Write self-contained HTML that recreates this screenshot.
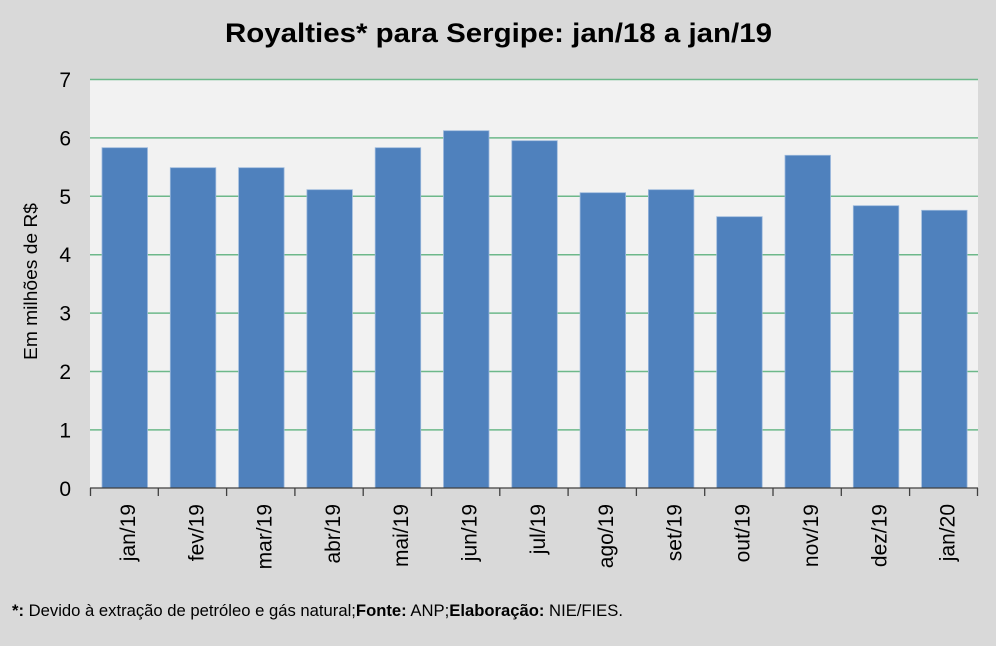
<!DOCTYPE html>
<html>
<head>
<meta charset="utf-8">
<style>
html,body{margin:0;padding:0;background:#d9d9d9;}
svg{display:block;}
text{font-family:"Liberation Sans",Arial,sans-serif;fill:#000;}
</style>
</head>
<body>
<svg width="996" height="646" viewBox="0 0 996 646" xmlns="http://www.w3.org/2000/svg">
<rect x="0" y="0" width="996" height="646" fill="#d9d9d9"/>
<!-- plot area -->
<rect x="90" y="79" width="888" height="409" fill="#f2f2f2"/>
<!-- gridlines -->
<g stroke="#6db88a" stroke-width="1.5">
<line x1="90" x2="978" y1="79.5" y2="79.5"/>
<line x1="90" x2="978" y1="137.9" y2="137.9"/>
<line x1="90" x2="978" y1="196.3" y2="196.3"/>
<line x1="90" x2="978" y1="254.7" y2="254.7"/>
<line x1="90" x2="978" y1="313.1" y2="313.1"/>
<line x1="90" x2="978" y1="371.5" y2="371.5"/>
<line x1="90" x2="978" y1="429.9" y2="429.9"/>
</g>
<!-- bars -->
<g fill="#4f81bd" stroke="#9bb8dc" stroke-width="0.8">
<rect x="102" y="147.7" width="45.5" height="340.3"/>
<rect x="170.3" y="167.7" width="45.5" height="320.3"/>
<rect x="238.6" y="167.7" width="45.5" height="320.3"/>
<rect x="306.9" y="189.7" width="45.5" height="298.3"/>
<rect x="375.2" y="147.7" width="45.5" height="340.3"/>
<rect x="443.5" y="130.7" width="45.5" height="357.3"/>
<rect x="511.8" y="140.7" width="45.5" height="347.3"/>
<rect x="580.1" y="192.7" width="45.5" height="295.3"/>
<rect x="648.4" y="189.7" width="45.5" height="298.3"/>
<rect x="716.7" y="216.7" width="45.5" height="271.3"/>
<rect x="785" y="155.3" width="45.5" height="332.7"/>
<rect x="853.3" y="205.7" width="45.5" height="282.3"/>
<rect x="921.6" y="210.3" width="45.5" height="277.7"/>
</g>
<!-- x axis -->
<g stroke="#404040" stroke-width="1.3">
<line x1="90" x2="978" y1="488" y2="488"/>
<line x1="90.5" x2="90.5" y1="488" y2="496"/>
<line x1="158.3" x2="158.3" y1="488" y2="496"/>
<line x1="226.6" x2="226.6" y1="488" y2="496"/>
<line x1="294.9" x2="294.9" y1="488" y2="496"/>
<line x1="363.2" x2="363.2" y1="488" y2="496"/>
<line x1="431.5" x2="431.5" y1="488" y2="496"/>
<line x1="499.8" x2="499.8" y1="488" y2="496"/>
<line x1="568.1" x2="568.1" y1="488" y2="496"/>
<line x1="636.4" x2="636.4" y1="488" y2="496"/>
<line x1="704.7" x2="704.7" y1="488" y2="496"/>
<line x1="773" x2="773" y1="488" y2="496"/>
<line x1="841.3" x2="841.3" y1="488" y2="496"/>
<line x1="909.6" x2="909.6" y1="488" y2="496"/>
<line x1="977.5" x2="977.5" y1="488" y2="496"/>
</g>
<!-- y tick labels -->
<g font-size="21" text-anchor="end">
<text x="71" y="87">7</text>
<text x="71" y="145.4">6</text>
<text x="71" y="203.8">5</text>
<text x="71" y="262.2">4</text>
<text x="71" y="320.6">3</text>
<text x="71" y="379">2</text>
<text x="71" y="437.4">1</text>
<text x="71" y="495.8">0</text>
</g>
<!-- y axis title -->
<text transform="translate(37,281.5) rotate(-90)" font-size="18.5" text-anchor="middle" textLength="157" lengthAdjust="spacingAndGlyphs">Em milhões de R$</text>
<!-- x labels -->
<g font-size="21" text-anchor="end">
<text transform="translate(135,504) rotate(-90)">jan/19</text>
<text transform="translate(203.3,504) rotate(-90)">fev/19</text>
<text transform="translate(271.6,504) rotate(-90)">mar/19</text>
<text transform="translate(339.9,504) rotate(-90)">abr/19</text>
<text transform="translate(408.2,504) rotate(-90)">mai/19</text>
<text transform="translate(476.5,504) rotate(-90)">jun/19</text>
<text transform="translate(544.8,504) rotate(-90)">jul/19</text>
<text transform="translate(613.1,504) rotate(-90)">ago/19</text>
<text transform="translate(681.4,504) rotate(-90)">set/19</text>
<text transform="translate(749.7,504) rotate(-90)">out/19</text>
<text transform="translate(818,504) rotate(-90)">nov/19</text>
<text transform="translate(886.3,504) rotate(-90)">dez/19</text>
<text transform="translate(954.6,504) rotate(-90)">jan/20</text>
</g>
<!-- title -->
<text x="225" y="42" font-size="27" font-weight="bold" textLength="547" lengthAdjust="spacingAndGlyphs">Royalties* para Sergipe: jan/18 a jan/19</text>
<!-- footer -->
<text x="12" y="616" font-size="17" textLength="611" lengthAdjust="spacingAndGlyphs"><tspan font-weight="bold">*:</tspan> Devido à extração de petróleo e gás natural;<tspan font-weight="bold">Fonte:</tspan> ANP;<tspan font-weight="bold">Elaboração:</tspan> NIE/FIES.</text>
</svg>
</body>
</html>
